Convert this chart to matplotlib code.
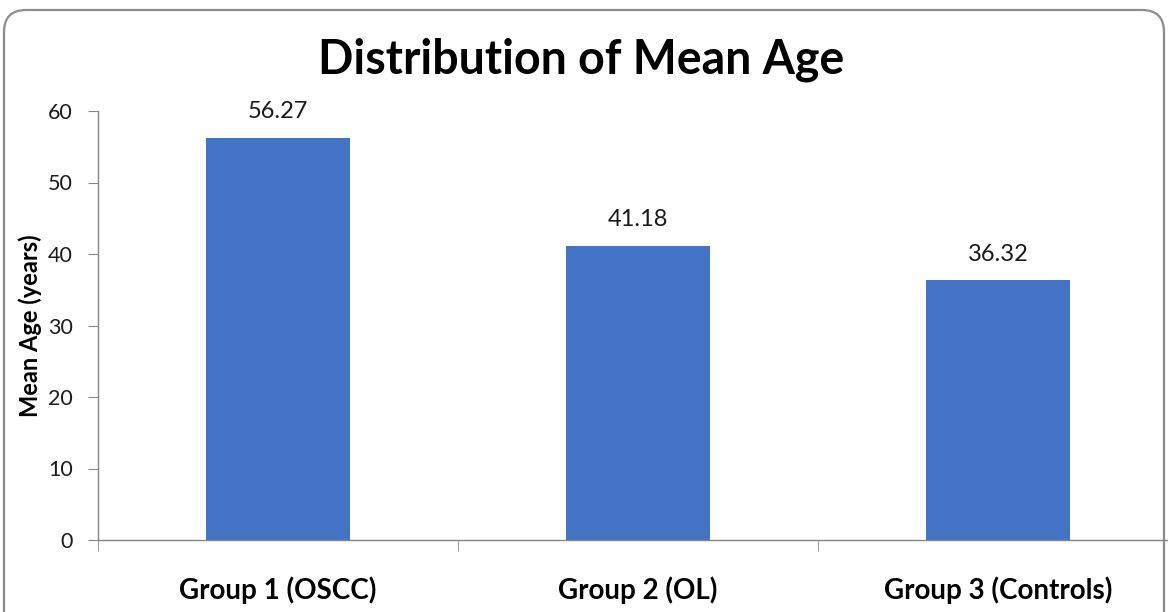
import matplotlib.pyplot as plt
from matplotlib.patches import FancyBboxPatch

groups = ["Group 1 (OSCC)", "Group 2 (OL)", "Group 3 (Controls)"]
mean_age = [56.27, 41.18, 36.32]
yticks = [0, 10, 20, 30, 40, 50, 60]

plt.rcParams["font.family"] = ["Lato", "DejaVu Sans"]

fig = plt.figure(figsize=(11.68, 6.12), dpi=100)

# background layer in pixel units for the rounded chart frame
bg = fig.add_axes([0, 0, 1, 1], zorder=-1)
bg.set_xlim(0, 1168)
bg.set_ylim(612, 0)
bg.axis("off")
bg.add_patch(FancyBboxPatch((4, 10), 1160, 640, boxstyle="round,pad=0,rounding_size=22",
                            facecolor="white", edgecolor="#8c8c8c", linewidth=1.6))

ax = fig.add_axes([98 / 1168, 72 / 612, 1080 / 1168, 429 / 612])
ax.patch.set_alpha(0)

x = list(range(len(groups)))
bars = ax.bar(x, mean_age, width=0.4, color="#4472C4")
for xi, v in zip(x, mean_age):
    ax.annotate(f"{v:.2f}", (xi, v), xytext=(0, 11), textcoords="offset points",
                ha="center", va="bottom", fontsize=17, color="#1a1a1a")

ax.set_xlim(-0.5, 2.5)
ax.set_ylim(0, 60)
ax.set_yticks(yticks)
ax.tick_params(axis="y", labelsize=15.5, length=7, color="#868686", pad=11, labelcolor="#1a1a1a")

ax.set_xticks(x)
ax.set_xticklabels(groups, fontsize=20, fontweight="bold")
ax.tick_params(axis="x", which="major", length=0, pad=26)
ax.set_xticks([-0.5, 0.5, 1.5, 2.5], minor=True)
ax.tick_params(axis="x", which="minor", length=8, color="#868686")

for s in ["top", "right"]:
    ax.spines[s].set_visible(False)
for s in ["left", "bottom"]:
    ax.spines[s].set_color("#868686")
    ax.spines[s].set_linewidth(1.0)

ax.set_ylabel("Mean Age (years)", fontsize=17, fontweight="bold")
ax.yaxis.set_label_coords(-0.052, 0.5)

fig.text(581 / 1168, 1 - 60 / 612, "Distribution of Mean Age", ha="center", va="center",
         fontsize=33.5, fontweight="bold")

fig.savefig("out.png", dpi=100)
